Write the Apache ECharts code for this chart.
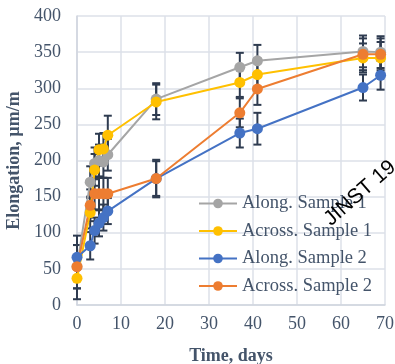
<!DOCTYPE html>
<html>
<head>
<meta charset="utf-8">
<script src="https://cdn.jsdelivr.net/npm/echarts@6/dist/echarts.min.js"></script>
<style>
  html, body { margin: 0; padding: 0; background: #fff; }
  #chart { width: 395px; height: 364px; }
</style>
</head>
<body>
<div id="chart"></div>
<script>
const days = [0, 3, 4, 5, 6, 7, 18, 37, 41, 65, 69];

const alongS1 = [53, 170, 196, 200, 198, 208, 285, 329, 338, 351, 350];
const acrossS1 = [37, 128, 187, 215, 216, 235, 281, 308, 319, 342, 342];
const alongS2 = [66, 82, 103, 113, 121, 130, 175, 238, 244, 301, 318];
const acrossS2 = [53, 138, 154, 154, 154, 154, 175, 266, 299, 347, 347];

// error bar half-widths
const errAlongS1 = [30, 22, 22, 22, 22, 22, 22, 20, 22, 22, 22];
const errAcrossS1 = [29, 22, 22, 22, 22, 27, 24, 20, 22, 20, 22];
const errAlongS2 = [30, 19, 18, 18, 18, 18, 24, 20, 22, 18, 20];
const errAcrossS2 = [30, 22, 22, 22, 22, 22, 26, 20, 22, 22, 22];

const names = ["Along. Sample 1", "Across. Sample 1", "Along. Sample 2", "Across. Sample 2"];
const colors = ["#a5a5a5", "#ffc000", "#4472c4", "#ed7d31"];
const values = [alongS1, acrossS1, alongS2, acrossS2];
const errors = [errAlongS1, errAcrossS1, errAlongS2, errAcrossS2];

const textColor = "#44546a";
const serif = "'Liberation Serif', 'DejaVu Serif', serif";

const chart = echarts.init(document.getElementById("chart"));

const lineSeries = names.map((name, i) => ({
  name,
  type: "line",
  data: days.map((d, j) => [d, values[i][j]]),
  symbol: "circle",
  symbolSize: 11,
  color: colors[i],
  lineStyle: { width: 2, color: colors[i] },
  itemStyle: { color: colors[i] },
  z: 3,
}));

const errorSeries = names.map((name, i) => ({
  type: "custom",
  data: days.map((d, j) => [d, values[i][j] - errors[i][j], values[i][j] + errors[i][j]]),
  z: 2,
  silent: true,
  renderItem: (params, api) => {
    const lo = api.coord([api.value(0), api.value(1)]);
    const hi = api.coord([api.value(0), api.value(2)]);
    const w = 4;
    const style = { stroke: "#2e3b50", lineWidth: 2 };
    return {
      type: "group",
      children: [
        { type: "line", shape: { x1: lo[0], y1: lo[1], x2: hi[0], y2: hi[1] }, style },
        { type: "line", shape: { x1: lo[0] - w, y1: lo[1], x2: lo[0] + w, y2: lo[1] }, style },
        { type: "line", shape: { x1: hi[0] - w, y1: hi[1], x2: hi[0] + w, y2: hi[1] }, style },
      ],
    };
  },
}));

chart.setOption({
  animation: false,
  grid: { left: 77, right: 10, top: 16, bottom: 59, outerBoundsMode: "none", containLabel: false },
  legend: {
    data: names,
    orient: "vertical",
    left: 193,
    top: 189,
    itemWidth: 38,
    itemHeight: 12,
    itemGap: 8.5,
    textStyle: { fontFamily: serif, fontSize: 18.5, color: textColor },
  },
  xAxis: {
    type: "value",
    min: 0,
    max: 70,
    interval: 10,
    name: "Time, days",
    nameLocation: "middle",
    nameGap: 42,
    nameTextStyle: { fontFamily: serif, fontSize: 18, fontWeight: "bold", color: textColor },
    axisLine: { show: true, lineStyle: { color: "#d0d5de", width: 1.5 } },
    axisTick: { show: false },
    axisLabel: { fontFamily: serif, fontSize: 18, color: textColor, margin: 10 },
    splitLine: { show: true, lineStyle: { color: "#dde1e8", width: 1.5 } },
  },
  yAxis: {
    type: "value",
    min: 0,
    max: 400,
    interval: 50,
    name: "Elongation, µm/m",
    nameLocation: "middle",
    nameGap: 50,
    nameTextStyle: { fontFamily: serif, fontSize: 18, fontWeight: "bold", color: textColor },
    axisLine: { show: true, lineStyle: { color: "#d0d5de", width: 1.5 } },
    axisTick: { show: false },
    axisLabel: { fontFamily: serif, fontSize: 18, color: textColor, margin: 16 },
    splitLine: { show: true, lineStyle: { color: "#dde1e8", width: 1.5 } },
  },
  graphic: [
    {
      type: "text",
      x: 334,
      y: 230,
      rotation: 0.72,
      z: 100,
      style: {
        text: "JINST 19",
        font: "21px 'Liberation Sans', sans-serif",
        fill: "#000",
        textVerticalAlign: "bottom",
      },
    },
  ],
  series: [...errorSeries, ...lineSeries],
});

window.addEventListener("resize", () => chart.resize());
</script>
</body>
</html>
